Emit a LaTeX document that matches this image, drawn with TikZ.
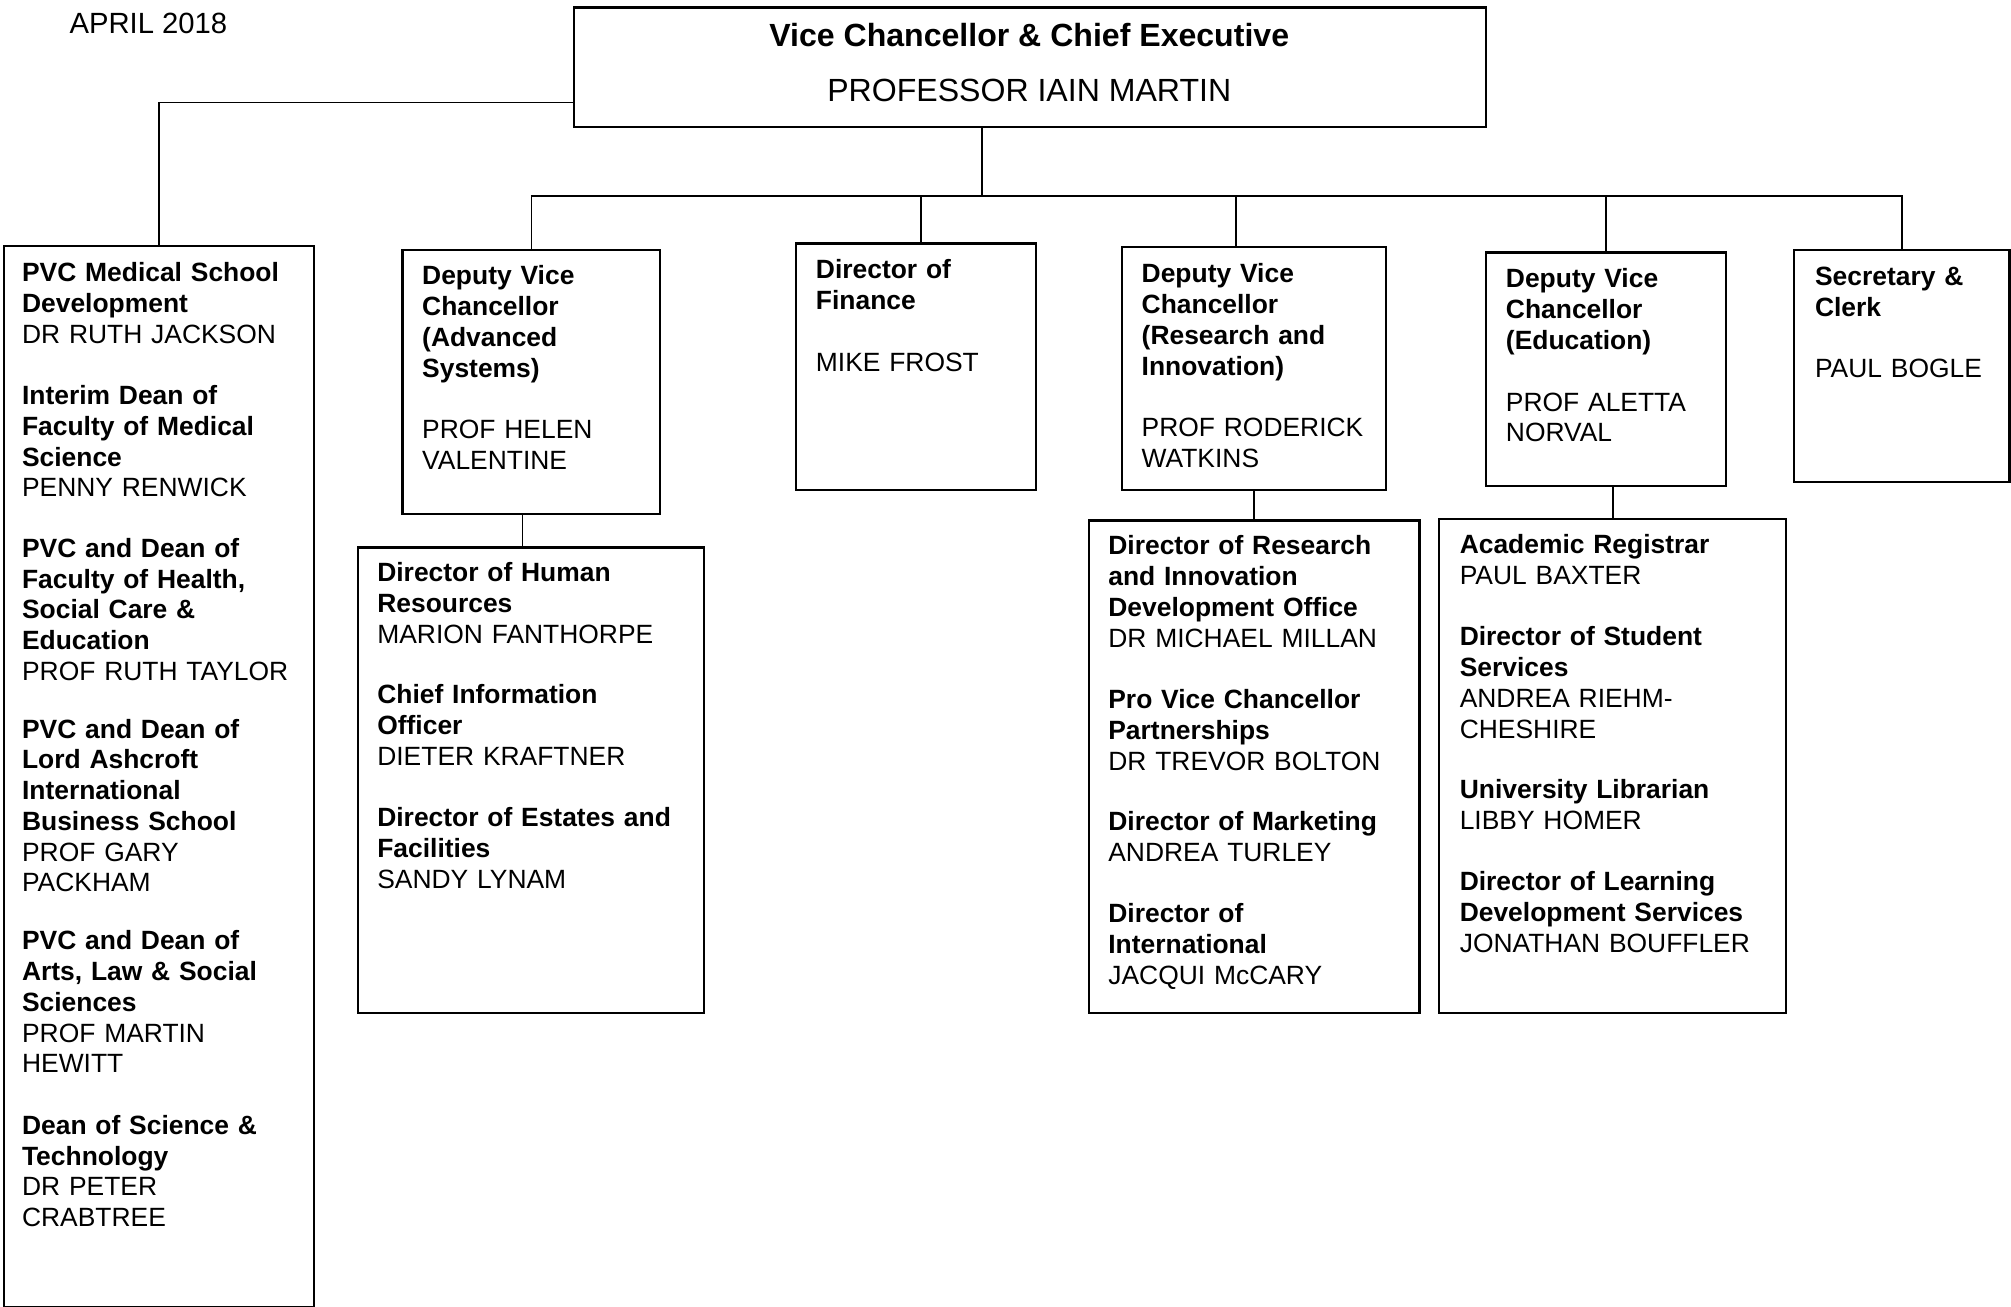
\documentclass[tikz,border=0pt]{standalone}
\usepackage{fontspec}
\setmainfont{Liberation Sans}
\usepackage{tikz}
\usetikzlibrary{positioning}

\begin{document}
\begin{tikzpicture}[x=1pt,y=-1pt,
   box/.style={draw, line width=1.7pt, anchor=north west, inner sep=0pt},
   txt/.style={anchor=base west, align=left, text width=300pt, inner sep=0pt,
               font=\fontsize{20.6}{24}\selectfont},
   link/.style={line width=1.4pt}]
   \useasboundingbox (0,0) rectangle (1568,1019);

   \node[anchor=base west, inner sep=0pt, font=\fontsize{22.8}{26}\selectfont] (date) at (54,26) {APRIL 2018};

   \node[box, minimum width=711pt, minimum height=93pt] (vc) at (447,5) {};
   \node[inner sep=0pt, anchor=base, font=\fontsize{25}{30}\selectfont\bfseries] (vc_t) at (802.5,36) {Vice Chancellor \& Chief Executive};
   \node[inner sep=0pt, anchor=base, font=\fontsize{25}{30}\selectfont] (vc_n) at (802.5,79) {PROFESSOR IAIN MARTIN};

   \node[box, minimum width=242pt, minimum height=827pt] (med)   at (2,191)    {};
   \node[box, minimum width=201pt, minimum height=206pt] (dvcas) at (313,194)  {};
   \node[box, minimum width=187pt, minimum height=192pt] (fin)   at (620,189)  {};
   \node[box, minimum width=206pt, minimum height=189pt] (dvcri) at (874,192)  {};
   \node[box, minimum width=187pt, minimum height=182pt] (dvced) at (1158,196) {};
   \node[box, minimum width=168pt, minimum height=181pt] (sec)   at (1398,194) {};
   \node[box, minimum width=270pt, minimum height=363pt] (hr)    at (278,426)  {};
   \node[box, minimum width=258pt, minimum height=384pt] (rido)  at (848,405)  {};
   \node[box, minimum width=271pt, minimum height=385pt] (reg)   at (1121,404) {};

   % texts in the boxes
   \node[txt] (med_t) at ([xshift=15pt,yshift=-28.5pt]med.north west)
      {\textbf{PVC Medical School}\\ \textbf{Development}\\ DR RUTH JACKSON\\[24pt]
       \textbf{Interim Dean of}\\ \textbf{Faculty of Medical}\\ \textbf{Science}\\ PENNY RENWICK\\[23pt]
       \textbf{PVC and Dean of}\\ \textbf{Faculty of Health,}\\ \textbf{Social Care \&}\\ \textbf{Education}\\ PROF RUTH TAYLOR\\[21pt]
       \textbf{PVC and Dean of}\\ \textbf{Lord Ashcroft}\\ \textbf{International}\\ \textbf{Business School}\\ PROF GARY\\ PACKHAM\\[21pt]
       \textbf{PVC and Dean of}\\ \textbf{Arts, Law \& Social}\\ \textbf{Sciences}\\ PROF MARTIN\\ HEWITT\\[24pt]
       \textbf{Dean of Science \&}\\ \textbf{Technology}\\ DR PETER\\ CRABTREE};
   \node[txt] (dvcas_t) at ([xshift=16pt,yshift=-28pt]dvcas.north west)
      {\textbf{Deputy Vice}\\ \textbf{Chancellor}\\ \textbf{(Advanced}\\ \textbf{Systems)}\\[24pt]
       PROF HELEN\\ VALENTINE};
   \node[txt] (fin_t) at ([xshift=16pt,yshift=-28.5pt]fin.north west)
      {\textbf{Director of}\\ \textbf{Finance}\\[24pt] MIKE FROST};
   \node[txt] (dvcri_t) at ([xshift=16pt,yshift=-28.5pt]dvcri.north west)
      {\textbf{Deputy Vice}\\ \textbf{Chancellor}\\ \textbf{(Research and}\\ \textbf{Innovation)}\\[24pt]
       PROF RODERICK\\ WATKINS};
   \node[txt] (dvced_t) at ([xshift=16pt,yshift=-28.5pt]dvced.north west)
      {\textbf{Deputy Vice}\\ \textbf{Chancellor}\\ \textbf{(Education)}\\[24pt]
       PROF ALETTA\\ NORVAL};
   \node[txt] (sec_t) at ([xshift=17pt,yshift=-28.5pt]sec.north west)
      {\textbf{Secretary \&}\\ \textbf{Clerk}\\[24pt] PAUL BOGLE};
   \node[txt] (hr_t) at ([xshift=16pt,yshift=-27.5pt]hr.north west)
      {\textbf{Director of Human}\\ \textbf{Resources}\\ MARION FANTHORPE\\[23pt]
       \textbf{Chief Information}\\ \textbf{Officer}\\ DIETER KRAFTNER\\[24pt]
       \textbf{Director of Estates and}\\ \textbf{Facilities}\\ SANDY LYNAM};
   \node[txt] (rido_t) at ([xshift=16pt,yshift=-27.5pt]rido.north west)
      {\textbf{Director of Research}\\ \textbf{and Innovation}\\ \textbf{Development Office}\\ DR MICHAEL MILLAN\\[24pt]
       \textbf{Pro Vice Chancellor}\\ \textbf{Partnerships}\\ DR TREVOR BOLTON\\[23pt]
       \textbf{Director of Marketing}\\ ANDREA TURLEY\\[24pt]
       \textbf{Director of}\\ \textbf{International}\\ JACQUI McCARY};
   \node[txt] (reg_t) at ([xshift=17pt,yshift=-27.5pt]reg.north west)
      {\textbf{Academic Registrar}\\ PAUL BAXTER\\[24pt]
       \textbf{Director of Student}\\ \textbf{Services}\\ ANDREA RIEHM-\\ CHESHIRE\\[23pt]
       \textbf{University Librarian}\\ LIBBY HOMER\\[24pt]
       \textbf{Director of Learning}\\ \textbf{Development Services}\\ JONATHAN BOUFFLER};

   % connectors
   \coordinate (busL) at (414,153);
   \coordinate (busR) at (1484,153);
   \draw[link] ([yshift=-27.5pt]vc.west) -| (med.north);
   \draw[link] ([xshift=-37.5pt]vc.south) -- ([xshift=-37.5pt]vc.south |- busL);
   \draw[link] (busL) -- (busR);
   \draw[link] (dvcas.north) -- (dvcas.north |- busL);
   \draw[link] ([xshift=3.5pt]fin.north) -- ([xshift=3.5pt]fin.north |- busL);
   \draw[link] ([xshift=-14pt]dvcri.north) -- ([xshift=-14pt]dvcri.north |- busL);
   \draw[link] (dvced.north) -- (dvced.north |- busL);
   \draw[link] (sec.north) -- (sec.north |- busL);
   \draw[link] ([xshift=-7pt]dvcas.south) -- ([xshift=-7pt]dvcas.south |- hr.north);
   \draw[link] (dvcri.south) -- (rido.north);
   \draw[link] (reg.north) -- (reg.north |- dvced.south);
\end{tikzpicture}
\end{document}
